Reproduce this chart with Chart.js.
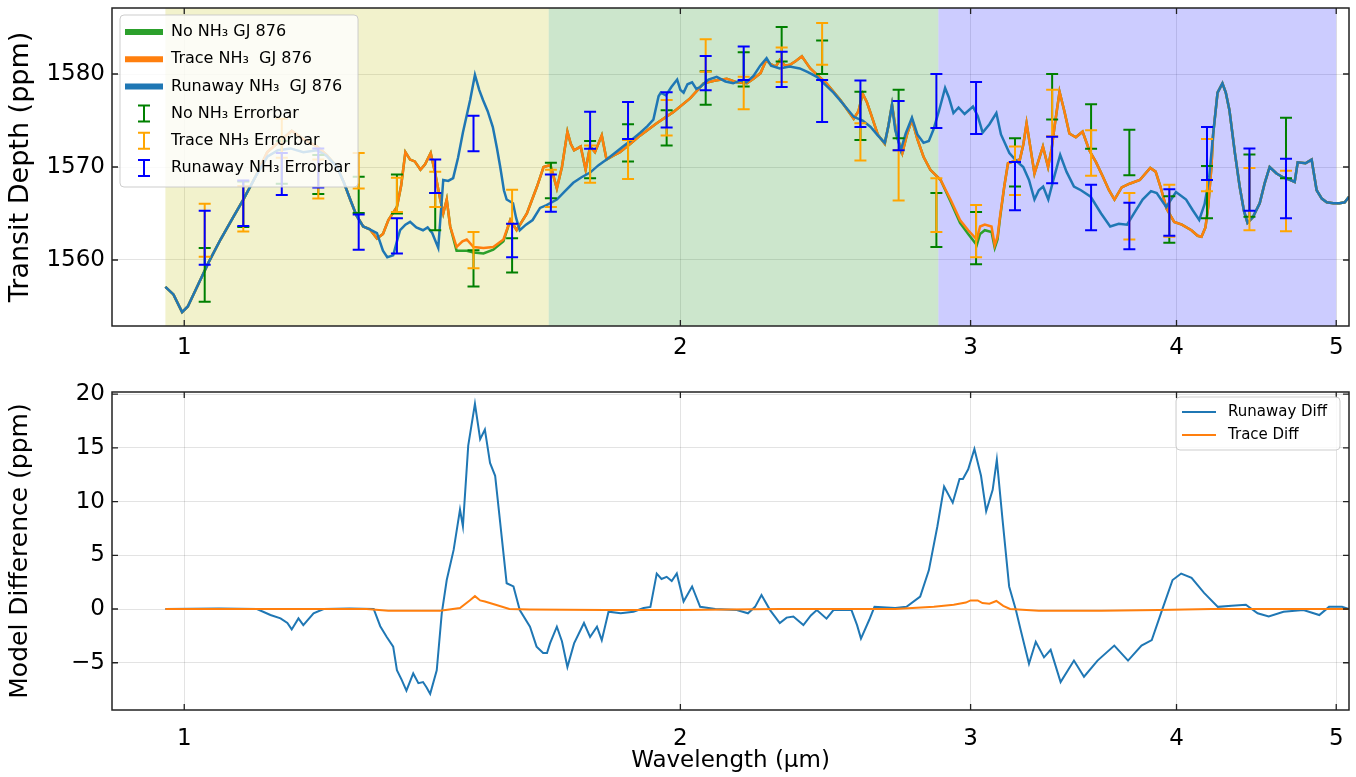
<!DOCTYPE html>
<html>
<head>
<meta charset="utf-8">
<title>GJ 876 NH3 transit spectra</title>
<script src="https://cdn.jsdelivr.net/npm/chart.js@4.4.0/dist/chart.umd.min.js"></script>
<style>
body { margin: 0; background: #fff; }
#wrap { position: relative; width: 1356px; height: 777px; }
#topBox { position: absolute; left: 0; top: 0; width: 1356px; height: 362px; }
#botBox { position: absolute; left: 0; top: 362px; width: 1356px; height: 415px; }
</style>
</head>
<body>
<div id="wrap">
  <div id="topBox"><canvas id="topChart"></canvas></div>
  <div id="botBox"><canvas id="botChart"></canvas></div>
</div>
<script>
// ---- data ----
var xTicks = [1, 2, 3, 4, 5];
var topTicks = [1560, 1570, 1580];
var botTicks = [-5, 0, 5, 10, 15, 20];

// shaded bands (micron)
var bandStart = [0.974, 1.664, 2.868];
var bandEnd = [1.664, 2.868, 5.0];
var bandColor = ['rgba(191,191,0,0.2)', 'rgba(0,128,0,0.2)', 'rgba(0,0,255,0.2)'];

// Runaway NH3 model
var runawayWave = [0.974,0.985,0.997,1.005,1.018,1.035,1.052,1.070,1.086,1.105,1.123,1.140,1.160,1.181,1.204,1.220,1.238,1.250,1.261,1.272,1.284,1.296,1.309,1.320,1.328,1.339,1.346,1.352,1.362,1.371,1.383,1.396,1.405,1.414,1.426,1.436,1.446,1.456,1.466,1.476,1.491,1.501,1.510,1.518,1.528,1.539,1.548,1.555,1.563,1.569,1.583,1.590,1.598,1.612,1.627,1.644,1.659,1.683,1.700,1.722,1.742,1.763,1.784,1.804,1.825,1.846,1.868,1.891,1.910,1.926,1.940,1.946,1.960,1.975,1.991,2.000,2.009,2.020,2.033,2.045,2.056,2.080,2.104,2.130,2.153,2.175,2.193,2.215,2.236,2.256,2.270,2.298,2.330,2.363,2.390,2.420,2.450,2.477,2.510,2.548,2.580,2.609,2.635,2.661,2.675,2.688,2.700,2.721,2.740,2.764,2.785,2.809,2.830,2.848,2.870,2.895,2.910,2.929,2.950,2.975,3.010,3.030,3.051,3.080,3.110,3.130,3.167,3.200,3.229,3.255,3.280,3.300,3.320,3.344,3.370,3.400,3.430,3.466,3.500,3.548,3.600,3.646,3.690,3.733,3.775,3.815,3.860,3.891,3.943,3.997,4.054,4.090,4.129,4.160,4.187,4.210,4.236,4.265,4.285,4.307,4.340,4.369,4.395,4.417,4.450,4.493,4.525,4.556,4.600,4.641,4.690,4.718,4.738,4.790,4.831,4.865,4.900,4.934,4.980,5.023,5.060,5.090];
var runawayDepth = [1557.1,1556.3,1554.4,1555.0,1557.1,1559.8,1562.2,1564.5,1566.5,1569.0,1571.1,1571.8,1572.0,1571.6,1571.8,1571.2,1570.0,1568.3,1566.5,1564.8,1563.6,1563.3,1562.9,1561.0,1560.3,1560.5,1562.0,1563.2,1563.8,1564.1,1563.5,1563.2,1563.5,1562.9,1561.3,1568.6,1568.5,1568.8,1571.0,1573.7,1577.2,1579.9,1578.3,1577.2,1576.0,1574.3,1572.0,1570.0,1567.5,1566.5,1566.1,1564.5,1563.2,1563.8,1564.3,1565.6,1565.9,1566.5,1567.3,1568.3,1568.9,1569.4,1570.2,1570.8,1571.5,1572.2,1572.9,1573.7,1574.4,1575.1,1577.6,1578.0,1577.7,1578.6,1579.4,1578.3,1578.0,1578.9,1579.1,1578.4,1578.6,1579.4,1579.7,1579.2,1579.0,1579.3,1579.1,1579.8,1580.9,1581.7,1580.9,1580.6,1580.8,1580.6,1580.2,1579.7,1578.8,1578.0,1576.8,1575.4,1575.0,1574.3,1573.4,1572.6,1574.5,1576.7,1574.0,1571.8,1573.6,1575.3,1573.5,1572.6,1572.8,1574.0,1576.0,1578.5,1577.5,1575.8,1576.4,1575.7,1576.5,1575.5,1573.7,1574.6,1575.8,1573.5,1571.5,1570.6,1570.0,1568.6,1566.5,1567.5,1567.9,1566.5,1568.8,1571.3,1569.5,1567.9,1567.5,1566.8,1565.0,1563.6,1563.9,1563.8,1565.2,1566.5,1567.4,1567.2,1565.7,1567.3,1566.5,1565.4,1564.3,1566.0,1568.9,1573.5,1578.0,1579.0,1578.0,1576.1,1571.5,1567.9,1565.3,1564.0,1564.6,1566.1,1568.3,1570.0,1569.3,1568.9,1568.6,1568.4,1570.5,1570.4,1570.8,1567.5,1566.6,1566.2,1566.1,1566.1,1566.2,1566.8];

// Trace NH3 model
var traceWave = [0.974,0.985,0.997,1.005,1.018,1.035,1.052,1.070,1.086,1.105,1.123,1.140,1.162,1.181,1.204,1.220,1.238,1.250,1.261,1.272,1.284,1.296,1.309,1.320,1.330,1.346,1.354,1.362,1.371,1.380,1.391,1.400,1.411,1.420,1.430,1.436,1.443,1.450,1.463,1.475,1.484,1.498,1.519,1.540,1.562,1.577,1.591,1.614,1.637,1.652,1.668,1.683,1.695,1.708,1.716,1.724,1.740,1.752,1.763,1.775,1.792,1.804,1.820,1.838,1.865,1.891,1.935,1.980,2.028,2.066,2.100,2.134,2.165,2.195,2.215,2.237,2.255,2.267,2.285,2.298,2.315,2.331,2.350,2.370,2.385,2.398,2.425,2.453,2.501,2.548,2.565,2.580,2.595,2.609,2.635,2.661,2.675,2.688,2.705,2.727,2.745,2.764,2.785,2.809,2.836,2.877,2.917,2.956,2.990,3.026,3.040,3.060,3.089,3.103,3.115,3.126,3.145,3.161,3.185,3.214,3.230,3.244,3.262,3.280,3.300,3.319,3.343,3.360,3.373,3.397,3.420,3.444,3.475,3.508,3.541,3.575,3.608,3.640,3.668,3.705,3.746,3.800,3.856,3.885,3.911,3.945,3.987,4.030,4.084,4.120,4.142,4.165,4.181,4.200,4.210,4.236,4.265,4.285,4.307,4.340,4.369,4.395,4.417,4.450,4.493,4.525,4.556,4.600,4.641,4.690,4.718,4.738,4.790,4.831,4.865,4.900,4.934,4.980,5.023,5.060,5.090];
var traceDepth = [1557.1,1556.3,1554.4,1555.0,1557.1,1559.8,1562.2,1564.5,1566.5,1569.0,1571.6,1572.6,1573.9,1573.0,1572.2,1571.3,1570.0,1568.3,1566.5,1564.8,1563.6,1563.3,1562.3,1562.8,1564.3,1565.7,1568.0,1571.6,1570.8,1570.6,1569.7,1570.3,1571.5,1569.3,1566.5,1565.0,1566.5,1563.6,1561.4,1562.0,1562.2,1561.4,1561.3,1561.4,1562.2,1564.3,1563.2,1565.0,1567.9,1570.0,1570.2,1567.7,1570.0,1573.8,1572.5,1571.8,1572.2,1569.7,1572.2,1571.6,1573.4,1570.8,1571.2,1571.6,1572.5,1573.4,1574.7,1575.9,1577.4,1579.0,1579.3,1579.5,1579.1,1579.0,1579.5,1580.1,1581.5,1581.1,1580.8,1581.5,1580.9,1581.0,1581.4,1581.9,1581.2,1580.6,1579.8,1579.0,1577.2,1575.2,1576.0,1577.9,1577.0,1575.8,1573.5,1572.5,1574.5,1576.7,1573.5,1571.5,1573.5,1575.1,1573.0,1571.1,1569.7,1568.6,1566.5,1564.3,1563.2,1562.2,1563.6,1563.8,1563.6,1561.6,1562.5,1564.7,1568.0,1570.4,1570.6,1570.8,1572.5,1574.7,1572.0,1569.3,1570.8,1572.2,1570.0,1572.0,1574.3,1578.1,1576.0,1573.6,1573.2,1573.8,1571.8,1570.5,1569.0,1567.5,1566.5,1567.8,1568.2,1568.6,1569.9,1569.5,1567.9,1565.5,1564.1,1563.8,1563.2,1562.6,1562.5,1563.5,1565.7,1570.0,1573.5,1578.0,1579.0,1578.0,1576.1,1571.5,1567.9,1565.3,1564.0,1564.6,1566.1,1568.3,1570.0,1569.3,1568.9,1568.6,1568.4,1570.5,1570.4,1570.8,1567.5,1566.6,1566.2,1566.1,1566.1,1566.2,1566.8];

// No NH3 model
var noneWave = traceWave;
var noneDepth = [1557.1,1556.3,1554.4,1555.0,1557.1,1559.8,1562.2,1564.5,1566.5,1569.0,1571.6,1572.6,1573.9,1573.0,1572.2,1571.3,1570.0,1568.3,1566.5,1564.8,1563.6,1563.3,1562.3,1562.8,1564.3,1565.7,1568.0,1571.6,1570.8,1570.6,1569.7,1570.3,1571.5,1569.3,1566.5,1565.0,1566.5,1563.6,1561.0,1561.0,1561.0,1560.8,1560.7,1561.1,1562.0,1564.3,1563.2,1565.0,1567.9,1570.0,1570.2,1567.7,1570.0,1573.8,1572.5,1571.8,1572.2,1569.7,1572.2,1571.6,1573.4,1570.8,1571.2,1571.6,1572.5,1573.4,1574.7,1575.9,1577.4,1579.0,1579.3,1579.5,1579.1,1579.0,1579.5,1580.1,1581.5,1581.1,1580.8,1581.5,1580.9,1581.0,1581.4,1581.9,1581.2,1580.6,1579.8,1579.0,1577.2,1575.2,1576.0,1577.9,1577.0,1575.8,1573.5,1572.5,1574.5,1576.7,1573.5,1571.5,1573.5,1575.1,1573.0,1571.1,1569.7,1568.6,1566.3,1564.0,1562.8,1561.6,1562.8,1563.2,1563.0,1561.3,1562.2,1564.5,1568.0,1570.4,1570.6,1570.8,1572.5,1574.7,1572.0,1569.3,1570.8,1572.2,1570.0,1572.0,1574.3,1578.1,1576.0,1573.6,1573.2,1573.8,1571.8,1570.5,1569.0,1567.5,1566.5,1567.8,1568.2,1568.6,1569.9,1569.5,1567.9,1565.5,1564.1,1563.8,1563.2,1562.6,1562.5,1563.5,1565.7,1570.0,1573.5,1578.0,1579.0,1578.0,1576.1,1571.5,1567.9,1565.3,1564.0,1564.6,1566.1,1568.3,1570.0,1569.3,1568.9,1568.6,1568.4,1570.5,1570.4,1570.8,1567.5,1566.6,1566.2,1566.1,1566.1,1566.2,1566.8];

// simulated observations with error bars
var barWave = [1.029,1.086,1.146,1.206,1.276,1.346,1.420,1.498,1.581,1.669,1.763,1.859,1.962,2.072,2.185,2.304,2.438,2.572,2.713,2.860,3.023,3.192,3.362,3.550,3.745,3.960,4.174,4.429,4.661];
var noneBarY = [1558.4,1566.0,1570.5,1569.2,1567.0,1567.1,1565.2,1559.1,1560.5,1568.55,1570.8,1572.6,1574.2,1578.5,1580.5,1583.2,1581.8,1575.5,1575.7,1564.3,1562.35,1570.5,1577.55,1574.35,1571.55,1564.35,1567.3,1568.0,1572.05];
var noneBarErr = [2.9,2.45,2.3,2.1,1.95,2.1,2.0,1.95,1.85,1.9,2.0,2.0,1.9,1.8,1.85,1.85,1.8,2.6,2.6,2.9,2.8,2.6,2.45,2.4,2.45,2.5,2.8,3.35,3.25];
var traceBarY = [1563.2,1565.5,1573.1,1568.7,1569.6,1567.0,1567.6,1561.05,1565.7,1567.7,1570.3,1570.8,1575.3,1582.0,1577.95,1581.0,1583.25,1572.7,1569.1,1565.9,1563.1,1569.6,1575.8,1571.5,1564.7,1565.3,1570.2,1566.55,1566.35];
var traceBarErr = [2.85,2.45,2.1,2.1,1.9,1.85,1.9,1.95,1.85,2.0,2.0,2.1,1.9,1.75,1.75,1.85,2.25,2.0,2.7,2.9,2.8,2.6,2.5,2.45,2.5,2.8,2.8,3.35,3.25];
var runawayBarY = [1562.4,1566.1,1569.25,1569.9,1563.0,1562.6,1569.0,1573.6,1562.1,1567.2,1573.95,1575.0,1576.15,1580.1,1581.15,1580.5,1577.1,1576.8,1574.45,1577.1,1576.35,1567.95,1570.75,1565.65,1563.65,1565.1,1571.45,1568.65,1567.7];
var runawayBarErr = [2.9,2.45,2.25,2.1,1.9,1.9,1.8,1.9,1.8,2.0,2.0,2.0,1.9,1.85,1.8,1.9,2.25,2.5,2.65,2.9,2.8,2.6,2.5,2.45,2.5,2.5,2.85,3.35,3.2];

// model differences
var runDiffWave = [0.974,1.050,1.107,1.128,1.144,1.155,1.162,1.173,1.181,1.198,1.215,1.260,1.303,1.315,1.327,1.339,1.346,1.355,1.364,1.377,1.387,1.396,1.403,1.410,1.423,1.433,1.443,1.457,1.470,1.476,1.487,1.501,1.512,1.522,1.533,1.544,1.555,1.569,1.584,1.598,1.621,1.636,1.651,1.660,1.667,1.683,1.695,1.708,1.724,1.748,1.763,1.780,1.792,1.809,1.840,1.873,1.900,1.918,1.935,1.948,1.962,1.976,1.990,2.009,2.033,2.056,2.100,2.164,2.198,2.220,2.240,2.267,2.298,2.320,2.342,2.375,2.400,2.420,2.453,2.477,2.540,2.560,2.574,2.604,2.623,2.700,2.743,2.796,2.830,2.864,2.891,2.926,2.954,2.968,2.990,3.016,3.044,3.066,3.094,3.112,3.137,3.166,3.196,3.218,3.255,3.286,3.324,3.355,3.402,3.440,3.466,3.515,3.582,3.667,3.738,3.809,3.864,3.920,3.978,4.026,4.085,4.157,4.238,4.320,4.407,4.480,4.550,4.645,4.776,4.883,4.950,5.041,5.090];
var runDiffVal = [0,0.05,0,-0.56,-0.87,-1.3,-1.9,-0.87,-1.5,-0.4,0,0.05,0,-1.6,-2.6,-3.5,-5.7,-6.6,-7.6,-6.0,-6.9,-6.8,-7.3,-7.9,-5.7,-0.4,2.7,5.5,9.25,7.7,15.2,19.1,15.8,16.7,13.6,12.4,8.0,2.4,2.1,-0.1,-1.65,-3.5,-4.1,-4.1,-3.2,-1.65,-3.0,-5.4,-3.2,-1.3,-2.6,-1.65,-2.9,-0.25,-0.4,-0.25,0.1,0.2,3.3,2.8,3.0,2.6,3.3,0.7,2.1,0.2,0,-0.1,-0.4,0.2,1.3,-0.1,-1.3,-0.8,-0.7,-1.5,-0.6,-0.1,-0.9,-0.1,-0.1,-1.5,-2.75,-1.0,0.2,0.1,0.2,1.15,3.6,7.7,11.4,9.9,12.1,12.1,13.0,14.9,12.4,9.1,11.1,13.9,8.3,2.1,-0.1,-2.0,-5.1,-3.05,-4.5,-3.8,-6.8,-5.6,-4.8,-6.3,-4.8,-3.4,-4.8,-3.4,-2.9,-0.1,2.7,3.3,2.9,1.5,0.2,0.3,0.4,-0.4,-0.7,-0.25,-0.1,-0.56,0.2,0.2,0];
var traceDiffWave = [0.974,1.290,1.330,1.430,1.470,1.490,1.501,1.512,1.522,1.545,1.575,1.620,1.800,2.000,2.300,2.700,2.850,2.930,2.980,3.000,3.030,3.050,3.080,3.110,3.140,3.170,3.300,3.600,3.900,4.200,5.090];
var traceDiffVal = [0,0,-0.15,-0.15,0.1,0.8,1.2,0.8,0.7,0.4,0,-0.05,-0.1,-0.1,0,0,0.2,0.4,0.6,0.8,0.8,0.55,0.5,0.75,0.3,0,-0.15,-0.15,-0.1,0,0];

// ---- helpers ----
Chart.defaults.font.family = "'DejaVu Sans', sans-serif";
Chart.defaults.color = '#000';

function pairs(xs, ys) {
    return xs.map(function (x, i) { return { x: x, y: ys[i] }; });
}

function minusLabel(v) {
    return v < 0 ? '\u2212' + Math.abs(v) : String(v);
}

var bandPlugin = {
    id: 'bands',
    beforeDatasetsDraw: function (chart) {
        var ctx = chart.ctx, xs = chart.scales.x, a = chart.chartArea;
        ctx.save();
        for (var i = 0; i < bandStart.length; i++) {
            var x1 = xs.getPixelForValue(bandStart[i]);
            var x2 = xs.getPixelForValue(bandEnd[i]);
            ctx.fillStyle = bandColor[i];
            ctx.fillRect(x1, a.top, x2 - x1, a.bottom - a.top);
        }
        ctx.restore();
    }
};

var errorbarPlugin = {
    id: 'errorbars',
    afterDatasetsDraw: function (chart) {
        var ctx = chart.ctx, xs = chart.scales.x, ys = chart.scales.y;
        var sets = [
            [noneBarY, noneBarErr, 'green'],
            [traceBarY, traceBarErr, 'orange'],
            [runawayBarY, runawayBarErr, 'blue']
        ];
        ctx.save();
        ctx.lineWidth = 2;
        sets.forEach(function (s) {
            ctx.strokeStyle = s[2];
            ctx.beginPath();
            for (var i = 0; i < barWave.length; i++) {
                var x = xs.getPixelForValue(barWave[i]);
                var y1 = ys.getPixelForValue(s[0][i] - s[1][i]);
                var y2 = ys.getPixelForValue(s[0][i] + s[1][i]);
                ctx.moveTo(x, y1); ctx.lineTo(x, y2);
                ctx.moveTo(x - 6, y1); ctx.lineTo(x + 6, y1);
                ctx.moveTo(x - 6, y2); ctx.lineTo(x + 6, y2);
            }
            ctx.stroke();
        });
        ctx.restore();
    }
};

// box round the plot plus inward ticks on all four sides
var framePlugin = {
    id: 'frame',
    afterDatasetsDraw: function (chart) {
        var ctx = chart.ctx, a = chart.chartArea, xs = chart.scales.x, ys = chart.scales.y;
        ctx.save();
        ctx.strokeStyle = '#222';
        ctx.lineWidth = 1.5;
        ctx.strokeRect(a.left, a.top, a.right - a.left, a.bottom - a.top);
        ctx.lineWidth = 1.3;
        ctx.beginPath();
        xs.ticks.forEach(function (t) {
            var x = xs.getPixelForValue(t.value);
            ctx.moveTo(x, a.bottom); ctx.lineTo(x, a.bottom - 6);
            ctx.moveTo(x, a.top); ctx.lineTo(x, a.top + 6);
        });
        ys.ticks.forEach(function (t) {
            var y = ys.getPixelForValue(t.value);
            ctx.moveTo(a.left, y); ctx.lineTo(a.left + 6, y);
            ctx.moveTo(a.right, y); ctx.lineTo(a.right - 6, y);
        });
        ctx.stroke();
        ctx.restore();
    }
};

function legendBox(ctx, x, y, w, h) {
    ctx.fillStyle = 'rgba(255,255,255,0.8)';
    ctx.strokeStyle = 'rgba(200,200,200,0.9)';
    ctx.lineWidth = 1;
    ctx.beginPath();
    ctx.roundRect(x, y, w, h, 4);
    ctx.fill();
    ctx.stroke();
}

var topLegendPlugin = {
    id: 'topLegend',
    afterDraw: function (chart) {
        var ctx = chart.ctx, a = chart.chartArea;
        var left = a.left + 8, top = a.top + 7;
        var items = [
            ['line', '#2ca02c', 'No NH\u2083 GJ 876'],
            ['line', '#ff7f0e', 'Trace NH\u2083  GJ 876'],
            ['line', '#1f77b4', 'Runaway NH\u2083  GJ 876'],
            ['bar', 'green', 'No NH\u2083 Errorbar'],
            ['bar', 'orange', 'Trace NH\u2083 Errorbar'],
            ['bar', 'blue', 'Runaway NH\u2083 Errorbar']
        ];
        ctx.save();
        legendBox(ctx, left, top, 238, 172);
        ctx.font = "16px 'DejaVu Sans'";
        ctx.textBaseline = 'middle';
        items.forEach(function (it, i) {
            var cy = top + 17 + i * 27.2;
            ctx.strokeStyle = it[1];
            ctx.beginPath();
            if (it[0] === 'line') {
                ctx.lineWidth = 6;
                ctx.moveTo(left + 5, cy); ctx.lineTo(left + 43, cy);
            } else {
                ctx.lineWidth = 2;
                var cx = left + 24;
                ctx.moveTo(cx, cy - 8); ctx.lineTo(cx, cy + 8);
                ctx.moveTo(cx - 6, cy - 8); ctx.lineTo(cx + 6, cy - 8);
                ctx.moveTo(cx - 6, cy + 8); ctx.lineTo(cx + 6, cy + 8);
            }
            ctx.stroke();
            ctx.fillStyle = '#000';
            ctx.fillText(it[2], left + 51, cy);
        });
        ctx.restore();
    }
};

var botLegendPlugin = {
    id: 'botLegend',
    afterDraw: function (chart) {
        var ctx = chart.ctx, a = chart.chartArea;
        var w = 164, h = 53;
        var left = a.right - 9 - w, top = a.top + 5;
        var items = [['#1f77b4', 'Runaway Diff'], ['#ff7f0e', 'Trace Diff']];
        ctx.save();
        legendBox(ctx, left, top, w, h);
        ctx.font = "15px 'DejaVu Sans'";
        ctx.textBaseline = 'middle';
        items.forEach(function (it, i) {
            var cy = top + 15 + i * 23;
            ctx.strokeStyle = it[0];
            ctx.lineWidth = 2;
            ctx.beginPath();
            ctx.moveTo(left + 6, cy); ctx.lineTo(left + 40, cy);
            ctx.stroke();
            ctx.fillStyle = '#000';
            ctx.fillText(it[1], left + 52, cy);
        });
        ctx.restore();
    }
};

function xAxis(height, pad, showTitle) {
    return {
        type: 'logarithmic',
        min: 0.904,
        max: 5.09,
        afterBuildTicks: function (s) { s.ticks = xTicks.map(function (v) { return { value: v }; }); },
        afterFit: function (s) { s.height = height; s.paddingLeft = 0; s.paddingRight = 0; },
        ticks: {
            autoSkip: false, maxRotation: 0, padding: pad,
            font: { size: 23 }, color: '#000',
            callback: function (v) { return String(v); }
        },
        grid: { color: 'rgba(0,0,0,0.11)', drawTicks: false },
        border: { display: false },
        title: {
            display: showTitle, text: 'Wavelength (\u03bcm)', color: '#000',
            font: { size: 23 }, padding: { top: 0, bottom: 2 }
        }
    };
}

function yAxis(min, max, tickList, title, titleSize) {
    return {
        type: 'linear',
        min: min,
        max: max,
        afterBuildTicks: function (s) { s.ticks = tickList.map(function (v) { return { value: v }; }); },
        afterFit: function (s) { s.width = 112; s.paddingTop = 0; s.paddingBottom = 0; },
        ticks: {
            padding: 7, font: { size: 23 }, color: '#000',
            callback: function (v) { return minusLabel(v); }
        },
        grid: { color: 'rgba(0,0,0,0.11)', drawTicks: false },
        border: { display: false },
        title: {
            display: true, text: title, color: '#000',
            font: { size: titleSize }, padding: { top: 5, bottom: 0 }
        }
    };
}

var baseOpts = {
    responsive: true,
    maintainAspectRatio: false,
    animation: false,
    events: [],
    elements: { point: { radius: 0 }, line: { tension: 0 } },
    plugins: { legend: { display: false }, tooltip: { enabled: false } }
};

var topChart = new Chart(document.getElementById('topChart').getContext('2d'), {
    type: 'line',
    data: {
        datasets: [
            { label: 'Runaway NH3 GJ 876', data: pairs(runawayWave, runawayDepth), borderColor: '#1f77b4', borderWidth: 2.5 },
            { label: 'Trace NH3 GJ 876', data: pairs(traceWave, traceDepth), borderColor: '#ff7f0e', borderWidth: 2.5 },
            { label: 'No NH3 GJ 876', data: pairs(noneWave, noneDepth), borderColor: '#2ca02c', borderWidth: 2.5 }
        ]
    },
    options: Object.assign({}, baseOpts, {
        layout: { padding: { top: 8, right: 7, left: 0, bottom: 0 } },
        scales: {
            x: xAxis(36, 8, false),
            y: yAxis(1552.9, 1587.1, topTicks, 'Transit Depth (ppm)', 27)
        }
    }),
    plugins: [bandPlugin, errorbarPlugin, framePlugin, topLegendPlugin]
});

var botChart = new Chart(document.getElementById('botChart').getContext('2d'), {
    type: 'line',
    data: {
        datasets: [
            { label: 'Trace Diff', data: pairs(traceDiffWave, traceDiffVal), borderColor: '#ff7f0e', borderWidth: 2 },
            { label: 'Runaway Diff', data: pairs(runDiffWave, runDiffVal), borderColor: '#1f77b4', borderWidth: 2 }
        ]
    },
    options: Object.assign({}, baseOpts, {
        layout: { padding: { top: 30, right: 7, left: 0, bottom: 0 } },
        scales: {
            x: xAxis(67, 15, true),
            y: yAxis(-9.4, 20.2, botTicks, 'Model Difference (ppm)', 25)
        }
    }),
    plugins: [framePlugin, botLegendPlugin]
});
</script>
</body>
</html>
